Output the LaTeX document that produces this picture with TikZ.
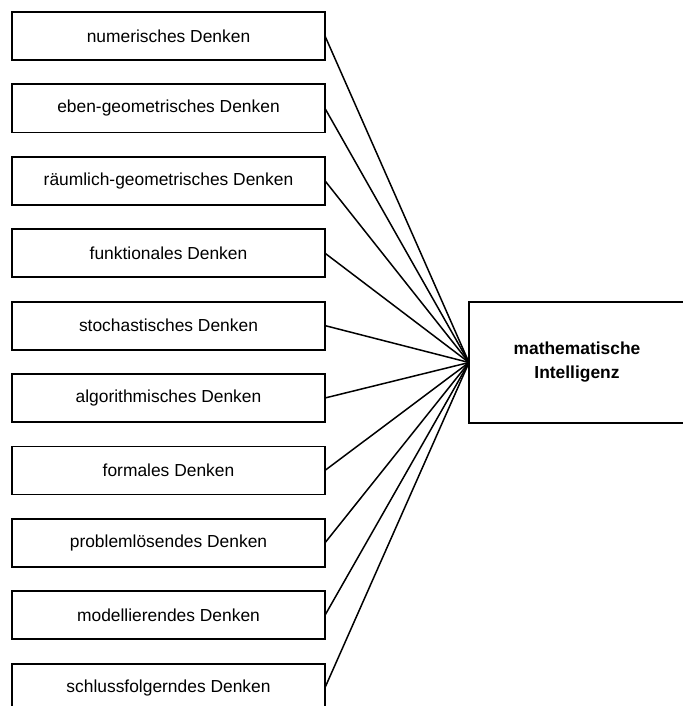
\documentclass[tikz,border=0pt]{standalone}
\usepackage{fontspec}
\setmainfont{Liberation Sans}
\usetikzlibrary{positioning}
\tikzset{
  denk/.style={draw,line width=0.9pt,minimum width=156.5pt,minimum height=24pt,
               inner sep=0pt,outer sep=0pt,font=\fontsize{8.7}{12}\selectfont},
  hub/.style={draw,line width=0.9pt,minimum width=108pt,minimum height=60.5pt,
              outer sep=0pt,align=center,font=\fontsize{8.7}{12}\selectfont\bfseries},
  ln/.style={line width=0.75pt},
}
\begin{document}
\begin{tikzpicture}[node distance=12.2pt]
  \useasboundingbox (0,0) rectangle (341.5pt,-353pt);
  % left column
  \node[denk] (NUM) at (84.25pt,-18pt) {numerisches Denken};
  \node[denk,below=of NUM]  (EBEN)  {eben-geometrisches Denken};
  \node[denk,below=of EBEN] (RAUM)  {räumlich-geometrisches Denken};
  \node[denk,below=of RAUM] (FUNK)  {funktionales Denken};
  \node[denk,below=of FUNK] (STOCH) {stochastisches Denken};
  \node[denk,below=of STOCH](ALGO)  {algorithmisches Denken};
  \node[denk,below=of ALGO] (FORM)  {formales Denken};
  \node[denk,below=of FORM] (PROB)  {problemlösendes Denken};
  \node[denk,below=of PROB] (MODL)  {modellierendes Denken};
  \node[denk,below=of MODL] (SCHL)  {schlussfolgerndes Denken};
  % right box
  \node[hub,anchor=west] (MATH) at (234.5pt,-181.25pt) {mathematische\\Intelligenz};

  % connectors
  \draw[ln] (NUM.east)   -- (MATH.west);
  \draw[ln] (EBEN.east)  -- (MATH.west);
  \draw[ln] (RAUM.east)  -- (MATH.west);
  \draw[ln] (FUNK.east)  -- (MATH.west);
  \draw[ln] (STOCH.east) -- (MATH.west);
  \draw[ln] (ALGO.east)  -- (MATH.west);
  \draw[ln] (FORM.east)  -- (MATH.west);
  \draw[ln] (PROB.east)  -- (MATH.west);
  \draw[ln] (MODL.east)  -- (MATH.west);
  \draw[ln] (SCHL.east)  -- (MATH.west);
\end{tikzpicture}
\end{document}
